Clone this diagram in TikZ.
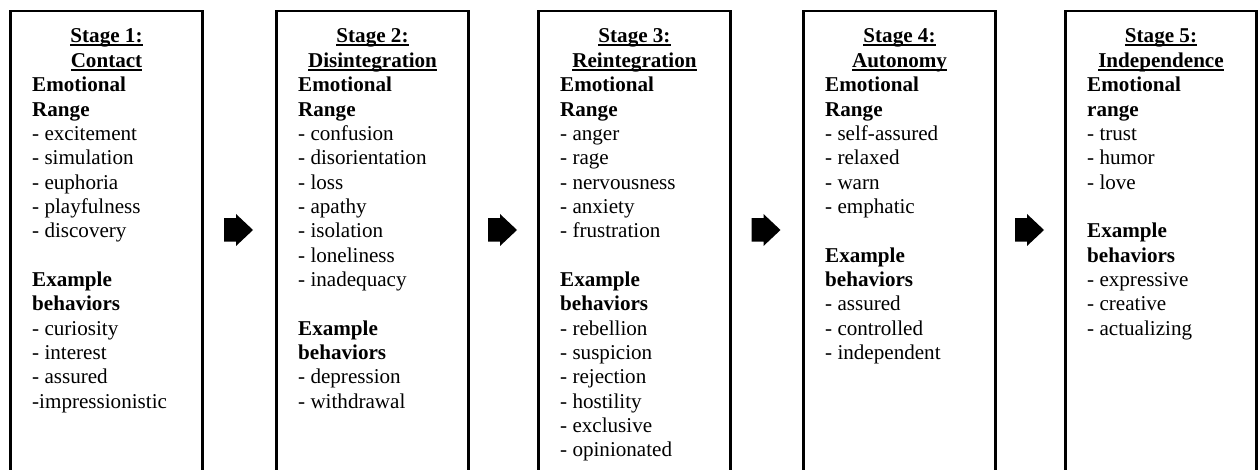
\documentclass[tikz,border=0pt]{standalone}
\usepackage{fontspec}
\setmainfont{Liberation Serif}
\usetikzlibrary{calc}
\newcommand\linesblock[1]{\vtop{\baselineskip=24.35pt\lineskiplimit=-\maxdimen\halign{##\hfil\cr#1\crcr}}}
\newcommand\titleblock[1]{\vtop{\baselineskip=24.35pt\lineskiplimit=-\maxdimen\halign{\hfil##\hfil\cr#1\crcr}}}
\newcommand\myul[1]{\setbox0=\hbox{#1}\rlap{\rule[-0.15em]{\wd0}{0.08em}}\box0}
\begin{document}
\begin{tikzpicture}[x=1pt,y=-1pt,
  font=\fontsize{21.1}{24.35}\selectfont,
  stagebox/.style={draw,line width=2.7pt,minimum width=192pt,minimum height=470pt,anchor=north west,inner sep=0pt,outer sep=0pt},
  titletext/.style={anchor=base,inner sep=0pt,font=\fontsize{21.1}{24.35}\selectfont\bfseries},
  bodytext/.style={anchor=base west,inner sep=0pt},
  blockarrow/.style={fill=black}]
\clip (0,0) rectangle (1258,470);
\node[stagebox] (b1) at (10.5,11) {};
\node[stagebox] (b2) at (276.5,11) {};
\node[stagebox] (b3) at (538.5,11) {};
\node[stagebox] (b4) at (803.5,11) {};
\node[stagebox,minimum width=191pt] (b5) at (1065.5,11) {};
% titles
\node[titletext] (t1) at ($(b1.north)+(0,32)$) {\titleblock{\myul{Stage 1:}\cr\myul{Contact}}};
\node[titletext] (t2) at ($(b2.north)+(0,32)$) {\titleblock{\myul{Stage 2:}\cr\myul{Disintegration}}};
\node[titletext] (t3) at ($(b3.north)+(0,32)$) {\titleblock{\myul{Stage 3:}\cr\myul{Reintegration}}};
\node[titletext] (t4) at ($(b4.north)+(0,32)$) {\titleblock{\myul{Stage 4:}\cr\myul{Autonomy}}};
\node[titletext] (t5) at ($(b5.north)+(0,32)$) {\titleblock{\myul{Stage 5:}\cr\myul{Independence}}};
% bodies
\node[bodytext] (c1) at ($(b1.north west)+(21.5,80.7)$) {\linesblock{\textbf{Emotional}\cr\textbf{Range}\cr
- excitement\cr - simulation\cr - euphoria\cr - playfulness\cr - discovery\cr\cr
\textbf{Example}\cr\textbf{behaviors}\cr - curiosity\cr - interest\cr - assured\cr -impressionistic}};
\node[bodytext] (c2) at ($(b2.north west)+(21.5,80.7)$) {\linesblock{\textbf{Emotional}\cr\textbf{Range}\cr
- confusion\cr - disorientation\cr - loss\cr - apathy\cr - isolation\cr - loneliness\cr - inadequacy\cr\cr
\textbf{Example}\cr\textbf{behaviors}\cr - depression\cr - withdrawal}};
\node[bodytext] (c3) at ($(b3.north west)+(21.5,80.7)$) {\linesblock{\textbf{Emotional}\cr\textbf{Range}\cr
- anger\cr - rage\cr - nervousness\cr - anxiety\cr - frustration\cr\cr
\textbf{Example}\cr\textbf{behaviors}\cr - rebellion\cr - suspicion\cr - rejection\cr - hostility\cr - exclusive\cr - opinionated}};
\node[bodytext] (c4) at ($(b4.north west)+(21.5,80.7)$) {\linesblock{\textbf{Emotional}\cr\textbf{Range}\cr
- self-assured\cr - relaxed\cr - warn\cr - emphatic\cr\cr
\textbf{Example}\cr\textbf{behaviors}\cr - assured\cr - controlled\cr - independent}};
\node[bodytext] (c5) at ($(b5.north west)+(21.5,80.7)$) {\linesblock{\textbf{Emotional}\cr\textbf{range}\cr
- trust\cr - humor\cr - love\cr\cr
\textbf{Example}\cr\textbf{behaviors}\cr - expressive\cr - creative\cr - actualizing}};
% arrows
\coordinate (a1) at ($(b1.north east)!0.5!(b2.north west)+(-1,219)$);
\coordinate (a2) at ($(b2.north east)!0.5!(b3.north west)+(-1,219)$);
\coordinate (a3) at ($(b3.north east)!0.5!(b4.north west)+(-1,219)$);
\coordinate (a4) at ($(b4.north east)!0.5!(b5.north west)+(-1,219)$);
\foreach \a in {a1,a2,a3,a4}{
  \fill[blockarrow,shift={(\a)}] (-14.5,-11.75) -- (-2.5,-11.75) -- (-2.5,-16) -- (14.5,0) -- (-2.5,16) -- (-2.5,11.75) -- (-14.5,11.75) -- cycle;
}
\end{tikzpicture}
\end{document}
